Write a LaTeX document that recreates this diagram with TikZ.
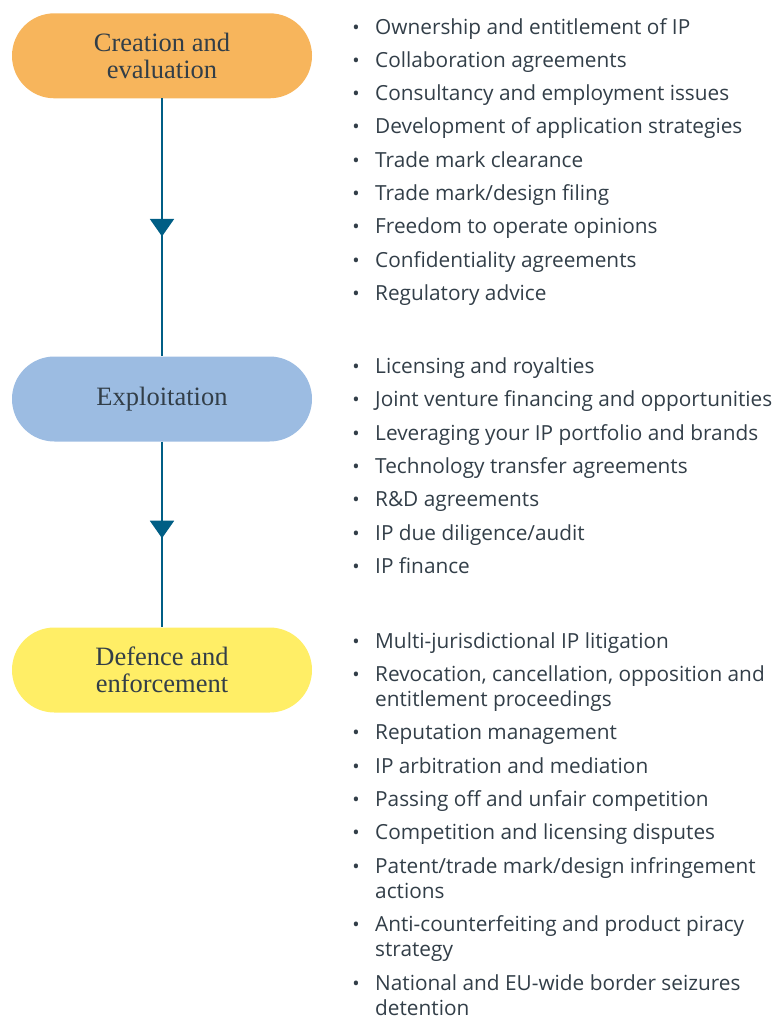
\documentclass[tikz,border=0pt]{standalone}
\usepackage{fontspec}
\setmainfont{Open Sans}
\newfontfamily\pillfont{Liberation Serif}
\usetikzlibrary{arrows.meta,decorations.markings}
\definecolor{pillorange}{RGB}{247,181,92}
\definecolor{pillblue}{RGB}{156,188,226}
\definecolor{pillyellow}{RGB}{255,238,102}
\definecolor{linkblue}{RGB}{0,94,133}
\definecolor{txtdark}{RGB}{50,62,72}
\tikzset{
  pill/.style={minimum width=300pt, minimum height=85pt, rounded corners=42.4pt,
    inner sep=0pt, align=center, text=txtdark,
    font=\pillfont\fontsize{26.5}{27.5}\selectfont},
  itm/.style={anchor=base west, inner sep=0pt, text=txtdark,
    font=\fontsize{20.8}{25}\selectfont},
  bul/.style={anchor=base, inner sep=0pt, text=txtdark,
    font=\fontsize{19.5}{25}\selectfont},
  conn/.style={draw=linkblue, line width=2pt, postaction={decorate}},
}
\newcommand{\bitem}[3]{%
  \node[bul] at (356,#2) {•};
  \node[itm] (#1) at (375,#2) {#3};}
\newcommand{\bitemtwo}[4]{%
  \node[bul] at (356,#2) {•};
  \node[itm] (#1) at (375,#2) {\parbox[t]{410pt}{\raggedright #3\\#4}};}
\begin{document}
\begin{tikzpicture}[x=1pt,y=-1pt]
\useasboundingbox (0,0) rectangle (776,1019);
\node[pill, fill=pillorange] (p1) at (162,55.8) {Creation and\\evaluation};
\node[pill, fill=pillblue] (p2) at (162,399) {Exploitation};
\node[pill, fill=pillyellow] (p3) at (162,670) {Defence and\\enforcement};
\draw[conn, decoration={markings, mark=at position 0.535 with {\arrow[linkblue]{Triangle[width=24pt,length=17.5pt]}}}] (p1.south) -- (p2.north);
\draw[conn, decoration={markings, mark=at position 0.52 with {\arrow[linkblue]{Triangle[width=24pt,length=17.5pt]}}}] (p2.south) -- (p3.north);
% group 1
\bitem{a1}{34.3}{Ownership and entitlement of IP}
\bitem{a2}{67.5}{Collaboration agreements}
\bitem{a3}{100.8}{Consultancy and employment issues}
\bitem{a4}{134}{Development of application strategies}
\bitem{a5}{167.3}{Trade mark clearance}
\bitem{a6}{200.5}{Trade mark/design filing}
\bitem{a7}{233.8}{Freedom to operate opinions}
\bitem{a8}{267}{Confidentiality agreements}
\bitem{a9}{300.3}{Regulatory advice}
% group 2
\bitem{b1}{373.3}{Licensing and royalties}
\bitem{b2}{406.6}{Joint venture financing and opportunities}
\bitem{b3}{440}{Leveraging your IP portfolio and brands}
\bitem{b4}{473.3}{Technology transfer agreements}
\bitem{b5}{506.6}{R\&D agreements}
\bitem{b6}{540}{IP due diligence/audit}
\bitem{b7}{573.3}{IP finance}
% group 3
\bitem{c1}{648.2}{Multi-jurisdictional IP litigation}
\bitemtwo{c2}{681.5}{Revocation, cancellation, opposition and}{entitlement proceedings}
\bitem{c3}{739.8}{Reputation management}
\bitem{c4}{773}{IP arbitration and mediation}
\bitem{c5}{806.4}{Passing off and unfair competition}
\bitem{c6}{839.7}{Competition and licensing disputes}
\bitemtwo{c7}{873}{Patent/trade mark/design infringement}{actions}
\bitemtwo{c8}{931.7}{Anti-counterfeiting and product piracy}{strategy}
\bitemtwo{c9}{990}{National and EU-wide border seizures}{detention}
\end{tikzpicture}
\end{document}
